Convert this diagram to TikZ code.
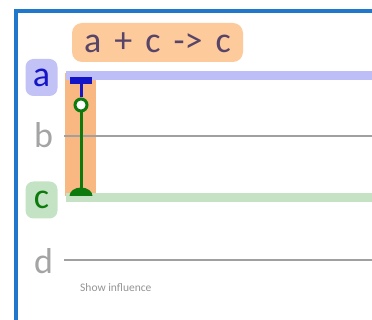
\documentclass[tikz,border=0pt]{standalone}
\usepackage{fontspec}
\setmainfont{Carlito}
\usetikzlibrary{positioning}

\definecolor{framebl}{HTML}{1F78CC}
\definecolor{lavline}{HTML}{BDBDF8}
\definecolor{lavbox}{HTML}{C2C2F6}
\definecolor{ablue}{HTML}{1515C8}
\definecolor{greenline}{HTML}{C5E2C5}
\definecolor{greenbox}{HTML}{C4E3C4}
\definecolor{cgreen}{HTML}{0C7A0C}
\definecolor{peach}{HTML}{FDCA9B}
\definecolor{colbar}{HTML}{F9B882}
\definecolor{titletxt}{HTML}{574468}
\definecolor{greytxt}{HTML}{A4A4A4}
\definecolor{greyline}{HTML}{A0A0A0}

\tikzset{
  spec/.style={rounded corners=8pt, minimum width=32pt, minimum height=37pt,
    inner sep=0pt, font=\fontsize{36}{36}\selectfont},
  species/.style={line width=9pt, line cap=butt},
  plainline/.style={line width=2.8pt, greyline},
  reaction/.style={fill=peach, rounded corners=10pt, minimum width=171pt,
    minimum height=39pt, inner sep=0pt, text=titletxt,
    font=\fontsize{36}{36}\selectfont},
  opcirc/.style={circle, draw=cgreen, line width=3pt, fill=white,
    minimum size=12pt, inner sep=0pt},
  hint/.style={text=greytxt!90!black, font=\fontsize{11.5}{11.5}\selectfont, inner sep=0pt}
}
\newcommand{\gap}{\hspace{13pt}}

\begin{document}
\begin{tikzpicture}[x=1pt,y=-1pt]
\useasboundingbox (0,0) rectangle (372,320);

% frame
\draw[framebl, line width=4pt] (16,320) -- (16,11.5) -- (372,11.5);

% reaction title
\node[reaction] (rx) at (157.5,42.5) {a\gap{}+\gap{}c\gap{}-{}>\gap{}c};

% species labels
\node[spec, fill=lavbox, text=ablue] (la) at (41.5,77.5) {a};
\node[spec, text=greytxt] (lb) at (43.5,135) {b};
\node[spec, fill=greenbox, text=cgreen] (lc) at (41.5,200) {c};
\node[spec, text=greytxt] (ld) at (43.5,261) {d};

% reaction column
\fill[colbar] (65,73) rectangle (96,196);

% species lines
\coordinate (a0) at (66,76);   \coordinate (a1) at (372,76);
\coordinate (b0) at (64,136);  \coordinate (b1) at (372,136);
\coordinate (c0) at (66,198);  \coordinate (c1) at (372,198);
\coordinate (d0) at (64,260);  \coordinate (d1) at (372,260);
\draw[species, lavline] (a0) -- (a1);
\draw[plainline] (b0) -- (b1);
\draw[species, greenline] (c0) -- (c1);
\draw[plainline] (d0) -- (d1);

% inhibitor and product
\coordinate (tee) at (81,80);
\coordinate (foot) at (81,195);
\node[opcirc] (op) at (81,105) {};
\draw[ablue, line width=3pt] (tee) -- (op);
\draw[cgreen, line width=3pt] (op) -- (foot);
\fill[ablue] (70,77) rectangle (92,84);
\fill[cgreen] (69.5,196) arc[start angle=180, end angle=360, x radius=11.5, y radius=8.5] -- cycle;

\node[hint, anchor=west] (si) at (80,288) {Show influence};

\end{tikzpicture}
\end{document}
